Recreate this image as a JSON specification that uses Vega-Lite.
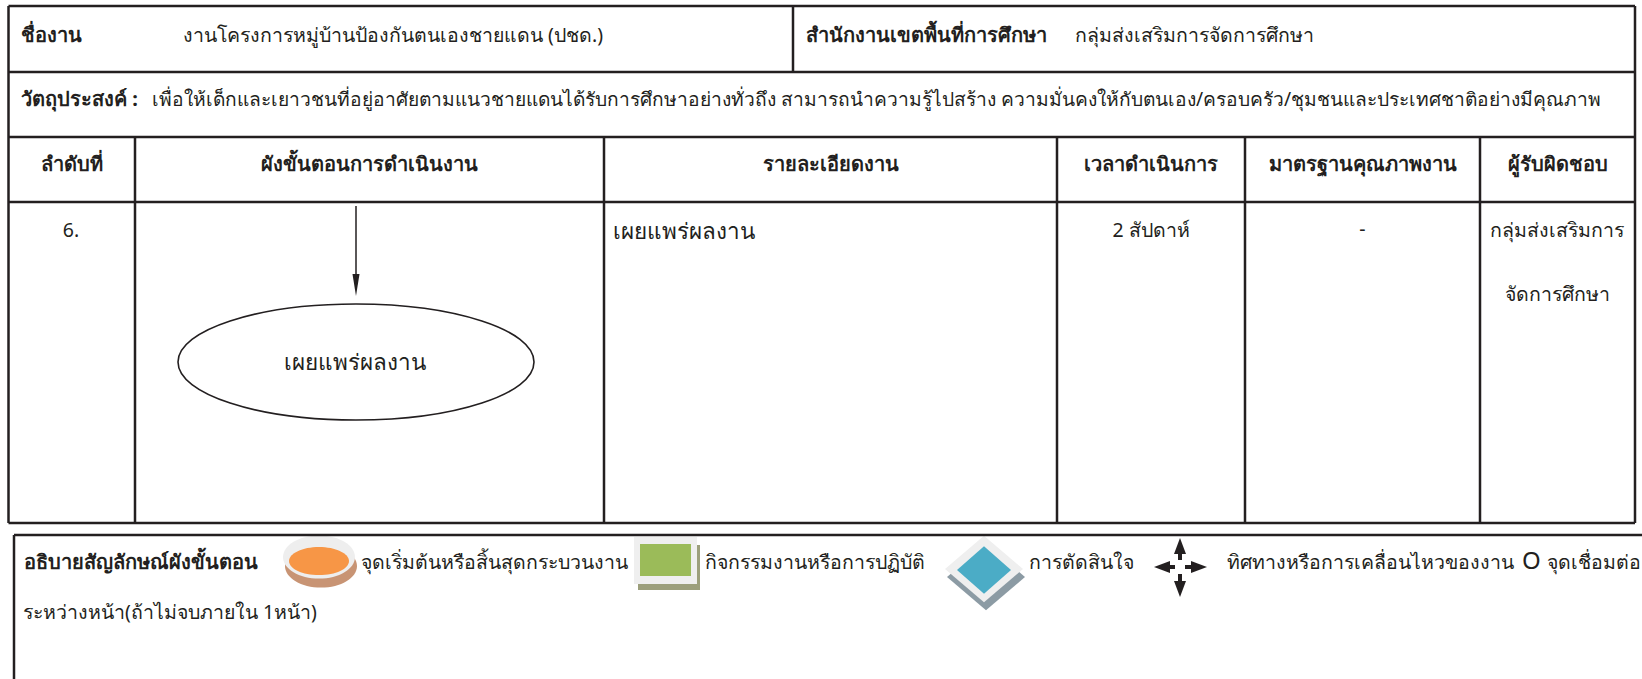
{
  "$schema": "https://vega.github.io/schema/vega-lite/v6.json",
  "width": 1642,
  "height": 679,
  "padding": 0,
  "autosize": "none",
  "background": "white",
  "config": {"view": {"stroke": null}, "text": {"font": "Noto Sans", "color": "#231f20"}},
  "datasets": {
    "lines": [
      {"x": 8.5, "y": 6, "x2": 1635, "y2": 6},
      {"x": 8.5, "y": 72, "x2": 1635, "y2": 72},
      {"x": 8.5, "y": 137, "x2": 1635, "y2": 137},
      {"x": 8.5, "y": 202, "x2": 1635, "y2": 202},
      {"x": 8.5, "y": 523, "x2": 1635, "y2": 523},
      {"x": 8.5, "y": 6, "x2": 8.5, "y2": 523},
      {"x": 1635, "y": 6, "x2": 1635, "y2": 523},
      {"x": 793, "y": 6, "x2": 793, "y2": 72},
      {"x": 135, "y": 137, "x2": 135, "y2": 523},
      {"x": 604, "y": 137, "x2": 604, "y2": 523},
      {"x": 1057, "y": 137, "x2": 1057, "y2": 523},
      {"x": 1245, "y": 137, "x2": 1245, "y2": 523},
      {"x": 1480, "y": 137, "x2": 1480, "y2": 523},
      {"x": 14, "y": 535, "x2": 1642, "y2": 535},
      {"x": 14, "y": 535, "x2": 14, "y2": 679}
    ],
    "boldLeft": [
      {"x": 21, "y": 36, "t": "ชื่องาน"},
      {"x": 806, "y": 36, "t": "สำนักงานเขตพื้นที่การศึกษา"},
      {"x": 21, "y": 100, "t": "วัตถุประสงค์ :"},
      {"x": 24, "y": 563, "t": "อธิบายสัญลักษณ์ผังขั้นตอน"}
    ],
    "normalLeft": [
      {"x": 183, "y": 36, "t": "งานโครงการหมู่บ้านป้องกันตนเองชายแดน (ปชด.)"},
      {"x": 1075, "y": 36, "t": "กลุ่มส่งเสริมการจัดการศึกษา"},
      {"x": 361, "y": 563, "t": "จุดเริ่มต้นหรือสิ้นสุดกระบวนงาน"},
      {"x": 705, "y": 563, "t": "กิจกรรมงานหรือการปฏิบัติ"},
      {"x": 1029, "y": 563, "t": "การตัดสินใจ"},
      {"x": 1227, "y": 563, "t": "ทิศทางหรือการเคลื่อนไหวของงาน"},
      {"x": 1547, "y": 563, "t": "จุดเชื่อมต่อ"},
      {"x": 23, "y": 613, "t": "ระหว่างหน้า(ถ้าไม่จบภายใน 1หน้า)"}
    ],
    "objective": [
      {"x": 152, "y": 100, "t": "เพื่อให้เด็กและเยาวชนที่อยู่อาศัยตามแนวชายแดนได้รับการศึกษาอย่างทั่วถึง สามารถนำความรู้ไปสร้าง ความมั่นคงให้กับตนเอง/ครอบครัว/ชุมชนและประเทศชาติอย่างมีคุณภาพ"}
    ],
    "connector": [{"x": 1522, "y": 562, "t": "O"}],
    "bigLeft": [{"x": 613, "y": 232, "t": "เผยแพร่ผลงาน"}],
    "bigCenter": [{"x": 355, "y": 363, "t": "เผยแพร่ผลงาน"}],
    "boldCenter": [
      {"x": 72, "y": 165, "t": "ลำดับที่"},
      {"x": 369.5, "y": 165, "t": "ผังขั้นตอนการดำเนินงาน"},
      {"x": 830.5, "y": 165, "t": "รายละเอียดงาน"},
      {"x": 1151, "y": 165, "t": "เวลาดำเนินการ"},
      {"x": 1362.5, "y": 165, "t": "มาตรฐานคุณภาพงาน"},
      {"x": 1557.5, "y": 165, "t": "ผู้รับผิดชอบ"}
    ],
    "normalCenter": [
      {"x": 71, "y": 231, "t": "6."},
      {"x": 1151, "y": 231, "t": "2 สัปดาห์"},
      {"x": 1362.5, "y": 230, "t": "-"},
      {"x": 1557, "y": 231, "t": "กลุ่มส่งเสริมการ"},
      {"x": 1557, "y": 295, "t": "จัดการศึกษา"}
    ],
    "flowArrow": [{"x": 356, "y": 206, "x2": 356, "y2": 278}],
    "flowHead": [{"x": 356, "y": 285}],
    "flowEllipse": [{"x": 356, "y": 362}],
    "ovalShadow": [{"x": 321, "y": 566}],
    "ovalRing": [{"x": 319, "y": 557}],
    "ovalFill": [{"x": 319, "y": 561}],
    "boxShadow": [{"x": 638, "y": 545, "x2": 700, "y2": 590}],
    "boxRing": [{"x": 634, "y": 537, "x2": 697, "y2": 584}],
    "boxFill": [{"x": 640, "y": 544, "x2": 691, "y2": 576}],
    "diaShadow": [{"x": 986, "y": 577}],
    "diaRing": [{"x": 984, "y": 569}],
    "diaFill": [{"x": 984, "y": 570}],
    "arrowUp": [{"x": 1180, "y": 546}],
    "arrowDown": [{"x": 1180, "y": 589}],
    "arrowLeft": [{"x": 1162, "y": 567}],
    "arrowRight": [{"x": 1199, "y": 567}],
    "arrowStems": [
      {"x": 1180, "y": 553, "x2": 1180, "y2": 560},
      {"x": 1180, "y": 574, "x2": 1180, "y2": 582},
      {"x": 1169, "y": 567, "x2": 1175, "y2": 567},
      {"x": 1185, "y": 567, "x2": 1192, "y2": 567}
    ]
  },
  "encoding": {
    "x": {"field": "x", "type": "quantitative", "scale": {"domain": [0, 1642], "nice": false, "zero": false}, "axis": null},
    "y": {"field": "y", "type": "quantitative", "scale": {"domain": [0, 679], "nice": false, "zero": false, "reverse": true}, "axis": null}
  },
  "layer": [
    {"data": {"name": "ovalShadow"}, "mark": {"type": "point", "filled": true, "color": "#c89474", "opacity": 1, "size": 5184, "shape": "M -1 0 A 1 0.6 0 1 1 1 0 A 1 0.6 0 1 1 -1 0 Z"}},
    {"data": {"name": "ovalRing"}, "mark": {"type": "point", "filled": true, "color": "#eeeeee", "opacity": 1, "size": 5184, "shape": "M -1 0 A 1 0.6 0 1 1 1 0 A 1 0.6 0 1 1 -1 0 Z"}},
    {"data": {"name": "ovalFill"}, "mark": {"type": "point", "filled": true, "color": "#f79646", "opacity": 1, "size": 3600, "shape": "M -1 0 A 1 0.47 0 1 1 1 0 A 1 0.47 0 1 1 -1 0 Z"}},
    {"data": {"name": "boxShadow"}, "mark": {"type": "rect", "color": "#9c9f7c"}, "encoding": {"x2": {"field": "x2"}, "y2": {"field": "y2"}}},
    {"data": {"name": "boxRing"}, "mark": {"type": "rect", "color": "#efefef"}, "encoding": {"x2": {"field": "x2"}, "y2": {"field": "y2"}}},
    {"data": {"name": "boxFill"}, "mark": {"type": "rect", "color": "#9bbb59"}, "encoding": {"x2": {"field": "x2"}, "y2": {"field": "y2"}}},
    {"data": {"name": "diaShadow"}, "mark": {"type": "point", "filled": true, "color": "#8c9ba4", "opacity": 1, "size": 6084, "shape": "M 0 -0.85 L 1 0 L 0 0.85 L -1 0 Z"}},
    {"data": {"name": "diaRing"}, "mark": {"type": "point", "filled": true, "color": "#efefef", "opacity": 1, "size": 6084, "shape": "M 0 -0.85 L 1 0 L 0 0.85 L -1 0 Z"}},
    {"data": {"name": "diaFill"}, "mark": {"type": "point", "filled": true, "color": "#4bacc6", "opacity": 1, "size": 2916, "shape": "M 0 -0.88 L 1 0 L 0 0.88 L -1 0 Z"}},
    {"data": {"name": "arrowUp"}, "mark": {"type": "point", "filled": true, "color": "#231f20", "opacity": 1, "size": 256, "shape": "M 0 -1 L 0.75 1 L -0.75 1 Z"}},
    {"data": {"name": "arrowDown"}, "mark": {"type": "point", "filled": true, "color": "#231f20", "opacity": 1, "size": 256, "shape": "M 0 1 L 0.75 -1 L -0.75 -1 Z"}},
    {"data": {"name": "arrowLeft"}, "mark": {"type": "point", "filled": true, "color": "#231f20", "opacity": 1, "size": 256, "shape": "M -1 0 L 1 -0.75 L 1 0.75 Z"}},
    {"data": {"name": "arrowRight"}, "mark": {"type": "point", "filled": true, "color": "#231f20", "opacity": 1, "size": 256, "shape": "M 1 0 L -1 -0.75 L -1 0.75 Z"}},
    {"data": {"name": "arrowStems"}, "mark": {"type": "rule", "color": "#231f20", "strokeWidth": 4}, "encoding": {"x2": {"field": "x2"}, "y2": {"field": "y2"}}},
    {"data": {"name": "lines"}, "mark": {"type": "rule", "color": "#231f20", "strokeWidth": 2.5}, "encoding": {"x2": {"field": "x2"}, "y2": {"field": "y2"}}},
    {"data": {"name": "flowArrow"}, "mark": {"type": "rule", "color": "#231f20", "strokeWidth": 1.5}, "encoding": {"x2": {"field": "x2"}, "y2": {"field": "y2"}}},
    {"data": {"name": "flowHead"}, "mark": {"type": "point", "filled": true, "color": "#231f20", "opacity": 1, "size": 484, "shape": "M -0.32 -1 L 0.32 -1 L 0 1 Z"}},
    {"data": {"name": "flowEllipse"}, "mark": {"type": "point", "filled": true, "fill": "white", "stroke": "#231f20", "strokeWidth": 1.6, "opacity": 1, "size": 126736, "shape": "M -1 0 A 1 0.326 0 1 1 1 0 A 1 0.326 0 1 1 -1 0 Z"}},
    {"data": {"name": "boldLeft"}, "mark": {"type": "text", "align": "left", "baseline": "middle", "fontSize": 20, "fontWeight": "bold"}, "encoding": {"text": {"field": "t"}}},
    {"data": {"name": "normalLeft"}, "mark": {"type": "text", "align": "left", "baseline": "middle", "fontSize": 19.5}, "encoding": {"text": {"field": "t"}}},
    {"data": {"name": "objective"}, "mark": {"type": "text", "align": "left", "baseline": "middle", "fontSize": 19.2}, "encoding": {"text": {"field": "t"}}},
    {"data": {"name": "connector"}, "mark": {"type": "text", "align": "left", "baseline": "middle", "fontSize": 24}, "encoding": {"text": {"field": "t"}}},
    {"data": {"name": "bigLeft"}, "mark": {"type": "text", "align": "left", "baseline": "middle", "fontSize": 22.5}, "encoding": {"text": {"field": "t"}}},
    {"data": {"name": "bigCenter"}, "mark": {"type": "text", "align": "center", "baseline": "middle", "fontSize": 22.5}, "encoding": {"text": {"field": "t"}}},
    {"data": {"name": "boldCenter"}, "mark": {"type": "text", "align": "center", "baseline": "middle", "fontSize": 20, "fontWeight": "bold"}, "encoding": {"text": {"field": "t"}}},
    {"data": {"name": "normalCenter"}, "mark": {"type": "text", "align": "center", "baseline": "middle", "fontSize": 19.5}, "encoding": {"text": {"field": "t"}}}
  ]
}
